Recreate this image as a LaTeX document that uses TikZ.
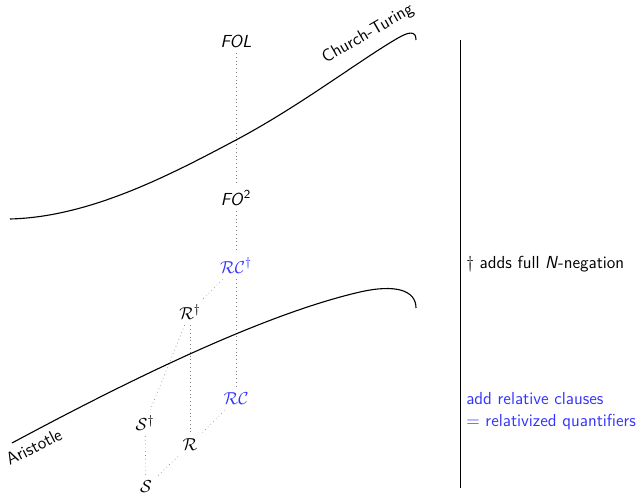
\documentclass[tikz,border=0pt]{standalone}
\definecolor{rcblue}{rgb}{0.2,0.2,1}
\begin{document}
\begin{tikzpicture}[x=0.6318pt,y=-0.6318pt,
  font=\fontsize{11pt}{13.6pt}\selectfont\sffamily,
  dots/.style={dotted, gray, line width=0.4pt},
  curve/.style={line width=0.7pt},
  rule/.style={line width=0.6pt},
  bluetxt/.style={text=rcblue}]
\useasboundingbox (0,0) rectangle (641,496);
% nodes
\node (FOL) at (236,41) {\textit{FOL}};
\node (FO2) at (236,198) {\textit{FO}\textsuperscript{2}};
\node[bluetxt] (RCd) at (236,266) {$\mathcal{RC}^{\dagger}$};
\node (Rd) at (190,312) {$\mathcal{R}^{\dagger}$};
\node[bluetxt] (RC) at (236,399) {$\mathcal{RC}$};
\node (Sd) at (145,423) {$\mathcal{S}^{\dagger}$};
\node (R) at (190,445) {$\mathcal{R}$};
\node (S) at (146,487) {$\mathcal{S}$};
% dotted connectors
\draw[dots] (FOL) -- (FO2);
\draw[dots] (FO2) -- (RCd);
\draw[dots] (RCd) -- (RC);
\draw[dots] (RCd) -- (Rd);
\draw[dots] (Rd) -- (R);
\draw[dots] (Rd) -- (Sd);
\draw[dots] (RC) -- (R);
\draw[dots] (R) -- (S);
\draw[dots] (Sd) -- (S);
% Church-Turing curve
\draw[curve] (10,219) .. controls (90,217) and (170,175) .. (236,140)
  .. controls (300,106) and (360,60) .. (398,38)
  .. controls (408,32.2) and (416,30) .. (416,40);
\node[rotate=30] (ct) at (368,34) {Church-Turing};
% Aristotle curve
\draw[curve] (12,443) .. controls (120,385) and (260,315) .. (360,292)
  .. controls (395,284) and (416,290) .. (416,308);
\node[rotate=27] (ar) at (34,447) {Aristotle};
% separator
\coordinate (vtop) at (460,40);
\coordinate (vbot) at (460,488);
\draw[rule] (vtop) -- (vbot);
% right-hand texts
\node[anchor=west, inner sep=0] (neg) at (466,264) {$\dagger$ adds full \textit{N}-negation};
\node[anchor=west, inner sep=0, align=left, bluetxt] (rel) at (466,411) {add relative clauses\\$=$ relativized quantifiers};
\end{tikzpicture}
\end{document}
